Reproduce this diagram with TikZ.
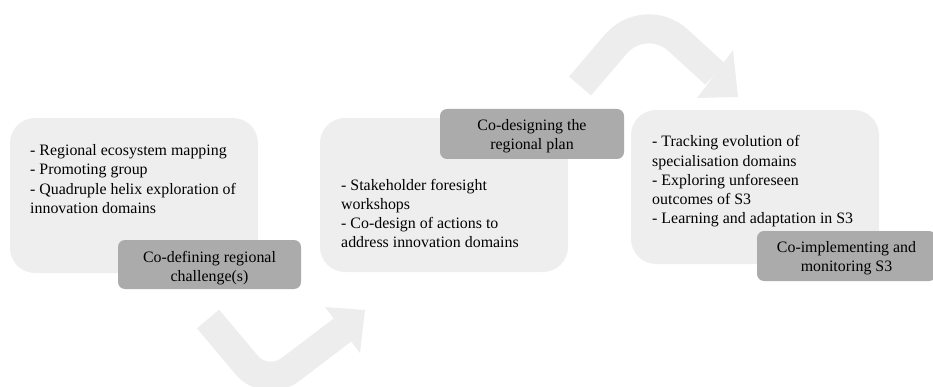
\documentclass[tikz,border=0pt]{standalone}
\usepackage{fontspec}
\setmainfont{Liberation Serif}
\newfontfamily\diagfont{Liberation Serif}
\definecolor{panelgray}{HTML}{EEEEEE}
\definecolor{taggray}{HTML}{ABABAB}
\definecolor{arrowgray}{HTML}{EDEDED}
\tikzset{
  panel/.style={fill=panelgray, draw=none, rounded corners=25pt, inner sep=0pt},
  tag/.style={fill=taggray, draw=none, rounded corners=7pt, inner sep=0pt},
  tagtxt/.style={align=center, inner sep=0pt, font=\diagfont\fontsize{15.9}{19.2}\selectfont},
  txt/.style={font=\diagfont\fontsize{15.9}{19.2}\selectfont, align=left, inner sep=0pt, anchor=north west},
  flow/.style={draw=arrowgray, line width=29pt, line cap=butt},
  flowhead/.style={fill=arrowgray, draw=none}
}
\begin{document}
\begin{tikzpicture}[x=1pt,y=-1pt]
\useasboundingbox (0,0) rectangle (933,387);
\clip (0,0) rectangle (933,387);
% flow arrows
\coordinate (a1s) at (208,319);
\coordinate (a1m) at (266,388);
\coordinate (a1e) at (342.5,330);
\coordinate (h1a) at (325,307);
\coordinate (h1b) at (365,310);
\coordinate (h1c) at (360,353);
\draw[flow, rounded corners=30pt] (a1s) -- (a1m) -- (a1e);
\fill[flowhead] (h1a) -- (h1b) -- (h1c) -- cycle;
\coordinate (a2s) at (580,86);
\coordinate (a2m) at (645,10);
\coordinate (a2e) at (715,74);
\coordinate (h2a) at (733,50);
\coordinate (h2b) at (738,97);
\coordinate (h2c) at (697,98);
\draw[flow, rounded corners=45pt] (a2s) -- (a2m) -- (a2e);
\fill[flowhead] (h2a) -- (h2b) -- (h2c) -- cycle;
% panels
\node[panel, minimum width=248pt, minimum height=155pt] (p1) at (134,195.5) {};
\node[panel, minimum width=248pt, minimum height=154pt] (p2) at (444,195) {};
\node[panel, minimum width=248pt, minimum height=154pt] (p3) at (755,187) {};
% panel texts
\node[txt] (t1) at (30,144.5) {- Regional ecosystem mapping\\- Promoting group\\- Quadruple helix exploration of\\innovation domains};
\node[txt] (t2) at (341,179) {- Stakeholder foresight\\workshops\\- Co-design of actions to\\address innovation domains};
\node[txt] (t3) at (652,135.5) {- Tracking evolution of\\specialisation domains\\- Exploring unforeseen\\outcomes of S3\\- Learning and adaptation in S3};
% tags
\node[tag, minimum width=183pt, minimum height=49pt] (l1) at (209.5,264.5) {};
\node[tag, minimum width=184pt, minimum height=50pt] (l2) at (532,134) {};
\node[tag, minimum width=179pt, minimum height=50pt] (l3) at (846.5,256) {};
\node[tagtxt] (l1t) at ([yshift=-3.5pt]l1.center) {Co-defining regional\\challenge(s)};
\node[tagtxt] (l2t) at ([yshift=-2.5pt]l2.center) {Co-designing the\\regional plan};
\node[tagtxt] (l3t) at ([yshift=-2.5pt]l3.center) {Co-implementing and\\monitoring S3};
\end{tikzpicture}
\end{document}
